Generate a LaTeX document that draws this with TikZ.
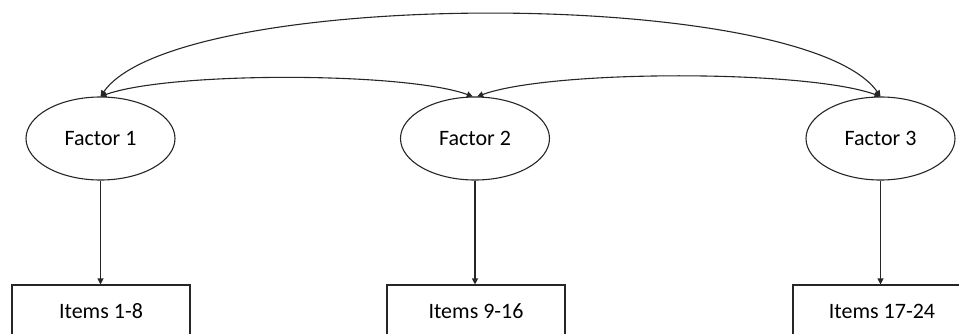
\documentclass[tikz,border=0pt]{standalone}
\usepackage{fontspec}
\setmainfont{Carlito}
\usetikzlibrary{shapes.geometric,arrows.meta}
\begin{document}
\begin{tikzpicture}[x=0.5pt, y=0.5pt, line width=0.55pt, draw=black!85,
    every node/.style={font=\fontsize{11}{13}\selectfont, inner sep=0pt},
    factor/.style={draw, ellipse, minimum width=74.5pt, minimum height=41.5pt},
    items/.style={draw, rectangle, minimum width=89pt, minimum height=26.5pt},
    tip/.style={-{Triangle[length=3pt,width=3pt]}},
    both/.style={{Triangle[length=3pt,width=3pt]}-{Triangle[length=3pt,width=3pt]}}]
  \clip (0,0) rectangle (959,333); \useasboundingbox (0,0) rectangle (959,333);
  % three factors in a row, item boxes cut off at the bottom edge
  \node[factor] (f1) at (100.5,194.5) {Factor 1};
  \node[factor] (f2) at (475,194.5) {Factor 2};
  \node[factor] (f3) at (880.5,194.5) {Factor 3};
  \node[items] (b1) at (101,21.5) {Items 1-8};
  \node[items] (b2) at (476,21.5) {Items 9-16};
  \node[items] (b3) at (882,21.5) {Items 17-24};
  \draw[tip] (f1.south) -- (f1.south |- b1.north);
  \draw[tip] (f2.south) -- (f2.south |- b2.north);
  \draw[tip] (f3.south) -- (f3.south |- b3.north);
  % covariances
  \draw[both] (f1.north) to[out=55, in=125, looseness=0.44] (f3.north);
  \draw[both] (f1.north) to[out=20, in=160, looseness=0.5] (f2.93);
  \draw[both] (f2.87) to[out=20, in=160, looseness=0.5] (f3.north);
\end{tikzpicture}
\end{document}
